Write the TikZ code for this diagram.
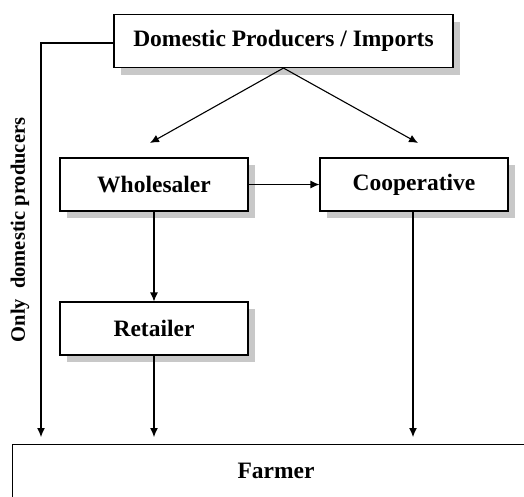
\documentclass[tikz,border=0pt]{standalone}
\usepackage{fontspec}
\setmainfont{Liberation Serif}
\usetikzlibrary{shadows,arrows.meta}
\definecolor{shadowgray}{RGB}{200,200,200}
\begin{document}
\begin{tikzpicture}[x=1pt,y=-1pt,
  lbl/.style={font=\fontsize{23.5}{26}\selectfont\bfseries},
  box/.style={lbl,draw=black,line width=1.1pt,fill=white,minimum height=53pt,inner sep=0pt,
    general shadow={fill=shadowgray,shadow xshift=7pt,shadow yshift=-7pt}},
  arr/.style={line width=1.1pt,-{Latex[length=9pt,width=8pt]}}]
\useasboundingbox (0,0) rectangle (524,496);
\node[box,minimum width=339pt] (top) at (283.5,41) {Domestic Producers / Imports};
\node[box,minimum width=188pt] (whole) at (154,184.5) {Wholesaler};
\node[box,minimum width=188pt] (coop) at (414,184.5) {Cooperative};
\node[box,minimum width=188pt] (ret) at (154,328.5) {Retailer};
\node[draw=black,line width=1.1pt,fill=white,minimum width=540pt,minimum height=70pt,inner sep=0pt,anchor=north west] (farm) at (12,444) {};
\node[lbl] (farmtxt) at (276,471) {Farmer};
\node[font=\fontsize{20.5}{24}\selectfont\bfseries,rotate=90] (only) at (20,230) {Only\ \ domestic producers};
\coordinate (w1) at (150,143);
\coordinate (c1) at (418,143);
\coordinate (lc) at (41,43);
\coordinate (la) at (41,437);
\coordinate (ra) at (154,437);
\coordinate (ca) at (413,437);
\draw[arr] (top.south) -- (w1);
\draw[arr] (top.south) -- (c1);
\draw[arr] (whole.east) -- (coop.west);
\draw[arr] (whole.south) -- (ret.north);
\draw[arr] (ret.south) -- (ra);
\draw[arr] (coop.south -| ca) -- (ca);
\draw[arr] (top.west |- lc) -- (lc) -- (la);
\end{tikzpicture}
\end{document}
